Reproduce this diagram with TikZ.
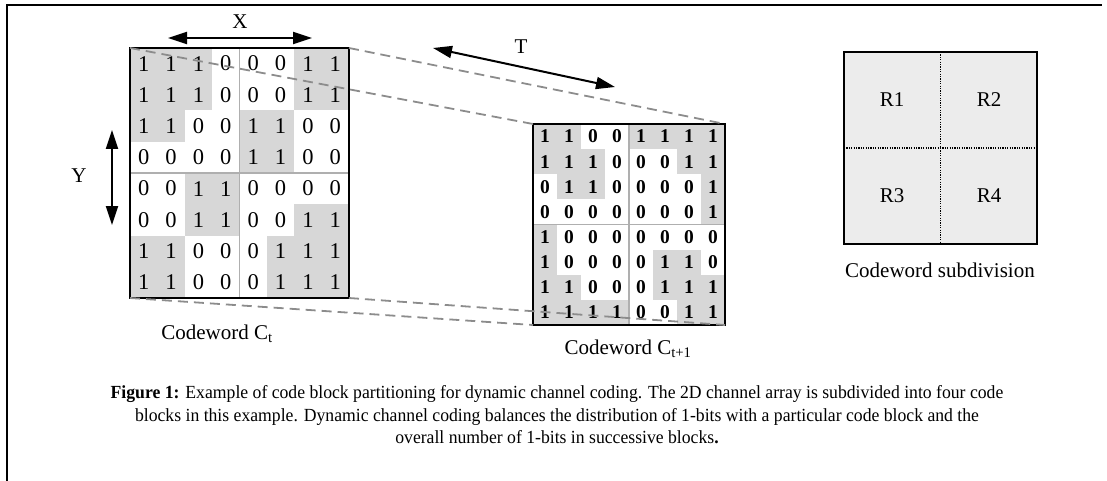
\documentclass[tikz,border=0pt]{standalone}
\usepackage{fontspec}
\setmainfont{Liberation Serif}
\newfontfamily\capfont[FakeStretch=0.955]{Liberation Serif}
\usetikzlibrary{arrows.meta}
\definecolor{shadecell}{RGB}{215,215,215}
\definecolor{midline}{RGB}{175,175,175}
\definecolor{dashgray}{RGB}{140,140,140}
\definecolor{boxfill}{RGB}{236,236,236}
\tikzset{
  gridframe/.style={draw=black, line width=2.2pt, inner sep=0pt, outer sep=0pt, anchor=north west},
  midrule/.style={draw=midline, line width=1.3pt},
  dashline/.style={draw=dashgray, line width=1.8pt, dash pattern=on 10pt off 6pt},
  dblarrow/.style={line width=2pt, {Triangle[length=19pt,width=12pt]}-{Triangle[length=19pt,width=12pt]}},
  lbl/.style={font=\fontsize{21}{24}\selectfont, inner sep=0pt},
  digL/.style={font=\fontsize{22.5}{24}\selectfont, inner sep=0pt},
  digR/.style={font=\fontsize{19.5}{22}\selectfont\bfseries, inner sep=0pt},
}
% #1 prefix, #2 x0, #3 y0, #4 cw, #5 ch, #6 style, #7 rows
\newcommand{\bitgrid}[7]{%
  \foreach \row [count=\r] in {#7} {%
    \foreach \b [count=\c] in \row {%
      \ifnum\b=1
        \fill[shadecell] ({#2+(\c-1)*#4},{#3+(\r-1)*#5}) rectangle ++(#4,#5);
      \fi
      \node[#6] (#1-\r-\c) at ({#2+(\c-0.5)*#4},{#3+(\r-0.5)*#5}) {\b};
    }%
  }%
}
\begin{document}
\begin{tikzpicture}[x=1pt,y=-1pt]
\useasboundingbox (0,0) rectangle (1107,481);
% outer frame (partial)
\coordinate (fbl) at (7,481);
\coordinate (ftl) at (7,5);
\coordinate (ftr) at (1102,5);
\draw[line width=2pt] (fbl) -- (ftl) -- (ftr);

% left codeword
\bitgrid{L}{130}{48}{27.375}{31.25}{digL}{{1,1,1,0,0,0,1,1},{1,1,1,0,0,0,1,1},{1,1,0,0,1,1,0,0},{0,0,0,0,1,1,0,0},{0,0,1,1,0,0,0,0},{0,0,1,1,0,0,1,1},{1,1,0,0,0,1,1,1},{1,1,0,0,0,1,1,1}}
\node[gridframe, minimum width=219pt, minimum height=250pt] (gridL) at (130,48) {};
\draw[midrule] (gridL.north) -- (gridL.south);
\draw[midrule] (gridL.west) -- (gridL.east);
\draw[gridframe] (gridL.north west) rectangle (gridL.south east);

% right codeword
\bitgrid{R}{533}{124}{24}{25.125}{digR}{{1,1,0,0,1,1,1,1},{1,1,1,0,0,0,1,1},{0,1,1,0,0,0,0,1},{0,0,0,0,0,0,0,1},{1,0,0,0,0,0,0,0},{1,0,0,0,0,1,1,0},{1,1,0,0,0,1,1,1},{1,1,1,1,0,0,1,1}}
\node[gridframe, minimum width=192pt, minimum height=201pt] (gridR) at (533,124) {};
\draw[midrule] (gridR.north) -- (gridR.south);
\draw[midrule] (gridR.west) -- (gridR.east);
\draw[gridframe] (gridR.north west) rectangle (gridR.south east);

% projection lines
\draw[dashline] (gridL.north west) -- (gridR.north west);
\draw[dashline] (gridL.north east) -- (gridR.north east);
\draw[dashline] (gridL.south west) -- (gridR.south west);
\draw[dashline] (gridL.south east) -- (gridR.south east);

% dimension arrows
\coordinate (xa) at (168,38);
\coordinate (xb) at (312,38);
\draw[dblarrow] (xa) -- (xb);
\node[lbl] (xlbl) at (240,22) {X};
\coordinate (ya) at (112,130);
\coordinate (yb) at (112,225);
\draw[dblarrow] (ya) -- (yb);
\node[lbl] (ylbl) at (79,176) {Y};
\coordinate (ta) at (433,48);
\coordinate (tb) at (615,87);
\draw[dblarrow] (ta) -- (tb);
\node[lbl] (tlbl) at (521,47) {T};

\node[lbl] (capL) at (217,334) {Codeword C\textsubscript{t}};
\node[lbl] (capR) at (628,349) {Codeword C\textsubscript{t+1}};

% subdivision box
\node[draw=black, fill=boxfill, line width=2pt, inner sep=0pt, outer sep=0pt, anchor=north west, minimum width=193pt, minimum height=192pt] (sub) at (844,52) {};
\draw[line width=1.3pt, dash pattern=on 1.2pt off 1.2pt] (sub.north) -- (sub.south);
\draw[line width=1.3pt, dash pattern=on 1.2pt off 1.2pt] (sub.west) -- (sub.east);
\node[lbl] (r1) at (892,100) {R1};
\node[lbl] (r2) at (989,100) {R2};
\node[lbl] (r3) at (892,196) {R3};
\node[lbl] (r4) at (989,196) {R4};
\node[lbl] (subcap) at (940,270) {Codeword subdivision};

% figure caption
\node[align=center, inner sep=0pt, font=\capfont\fontsize{18.5}{22.5}\selectfont] (figcap) at (557,415)
{\textbf{Figure 1:} Example of code block partitioning for dynamic channel coding. The 2D channel array is subdivided into four code\\
blocks in this example. Dynamic channel coding balances the distribution of 1-bits with a particular code block and the\\
overall number of 1-bits in successive blocks\textbf{.}};
\end{tikzpicture}
\end{document}
